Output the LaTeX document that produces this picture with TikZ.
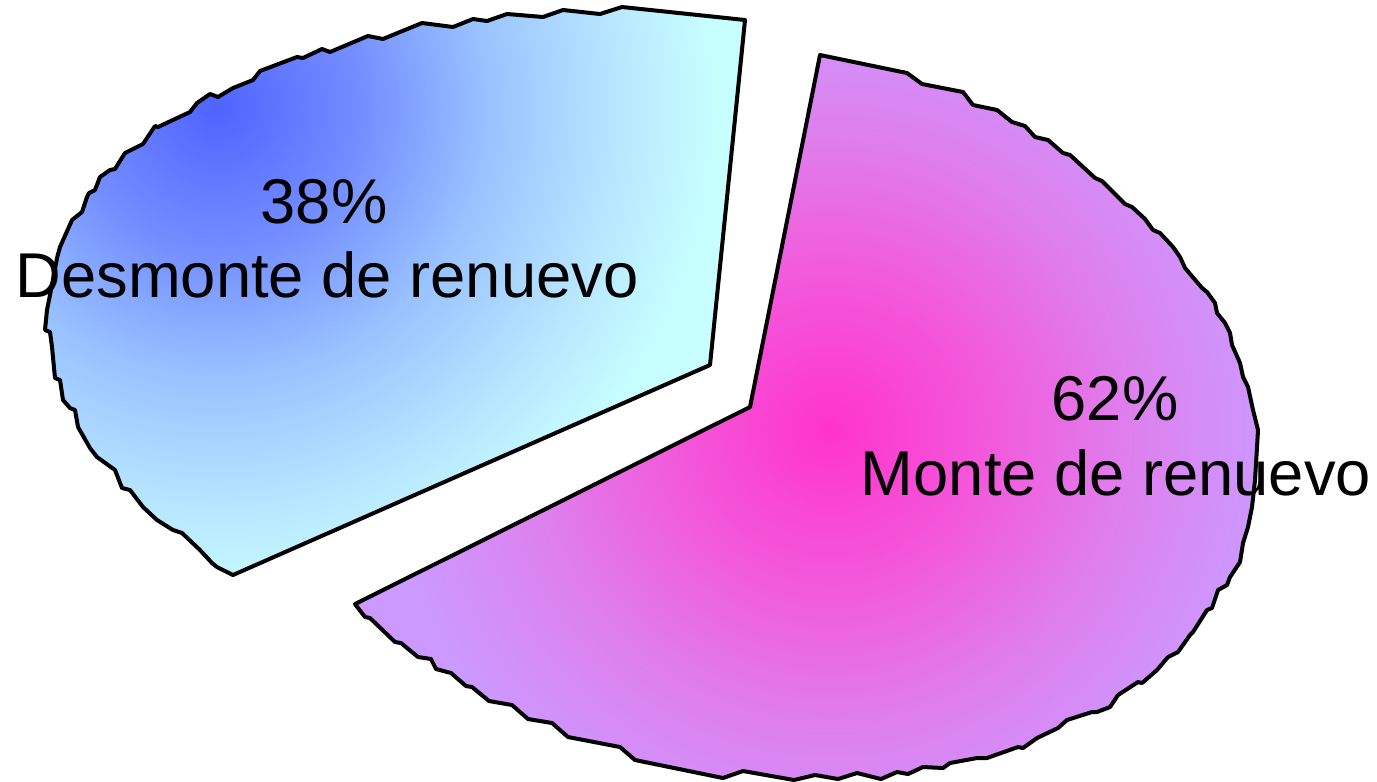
\documentclass[tikz,border=0pt]{standalone}
\usepackage{fontspec}
\setmainfont{Liberation Sans}
\usepackage{tikz}
\definecolor{lavender}{rgb}{0.8,0.6,1}
\definecolor{palecyan}{rgb}{0.78,1,1}
\pgfdeclareradialshading{pinkglow}{\pgfpoint{0bp}{0bp}}{rgb(0bp)=(1,0.2,0.8); rgb(9bp)=(0.95,0.35,0.86); rgb(17bp)=(0.87,0.5,0.93); rgb(25bp)=(0.8,0.6,1); rgb(50bp)=(0.8,0.6,1)}
\pgfdeclareradialshading{blueglow}{\pgfpoint{0bp}{0bp}}{rgb(0bp)=(0.31,0.39,1); rgb(7bp)=(0.45,0.55,1); rgb(13.5bp)=(0.6,0.76,1); rgb(20bp)=(0.72,0.9,1); rgb(25bp)=(0.78,1,1); rgb(50bp)=(0.78,1,1)}
\def\blueslice{(710,365) -- (745,20) -- (622,7) -- (600,14) -- (563,10) -- (543,17) -- (507,14) -- (487,21) -- (473,19) -- (453,27) -- (422,23) -- (400,32) -- (383,39) -- (368,36) -- (330,52) -- (322,49) -- (303,58) -- (297,57) -- (260,71) -- (253,80) -- (233,88) -- (218,97) -- (210,94) -- (197,103) -- (190,112) -- (158,127) -- (155,126) -- (143,144) -- (127,152) -- (125,153) -- (115,169) -- (110,170) -- (100,177) -- (95,190) -- (89,193) -- (87,197) -- (82,212) -- (72,220) -- (68,229) -- (60,247) -- (57,258) -- (52,285) -- (47,310) -- (45,330) -- (50,332) -- (52,347) -- (55,378) -- (60,380) -- (63,400) -- (70,408) -- (75,410) -- (78,427) -- (90,448) -- (97,457) -- (115,470) -- (122,488) -- (130,490) -- (143,507) -- (157,520) -- (173,530) -- (182,533) -- (200,550) -- (212,563) -- (217,567) -- (233,575) -- cycle}
\def\pinkslice{(750,407) -- (820,55) -- (907,73) -- (922,84) -- (963,92) -- (973,105) -- (997,110) -- (1012,122) -- (1025,126) -- (1035,137) -- (1048,140) -- (1063,153) -- (1070,155) -- (1095,178) -- (1102,181) -- (1125,204) -- (1132,207) -- (1145,219) -- (1153,230) -- (1160,233) -- (1173,247) -- (1180,257) -- (1185,268) -- (1202,288) -- (1207,292) -- (1215,303) -- (1217,313) -- (1225,323) -- (1230,333) -- (1232,345) -- (1240,363) -- (1243,377) -- (1248,387) -- (1253,410) -- (1258,430) -- (1257,447) -- (1255,480) -- (1252,507) -- (1248,527) -- (1243,543) -- (1240,562) -- (1230,577) -- (1227,585) -- (1218,590) -- (1212,608) -- (1207,610) -- (1193,632) -- (1190,635) -- (1178,652) -- (1168,657) -- (1157,670) -- (1142,683) -- (1138,682) -- (1118,695) -- (1110,707) -- (1097,712) -- (1092,712) -- (1067,720) -- (1058,728) -- (1037,738) -- (1023,748) -- (1018,747) -- (987,758) -- (977,758) -- (950,763) -- (943,768) -- (923,767) -- (908,774) -- (897,772) -- (881,779) -- (857,773) -- (838,779) -- (815,775) -- (794,780) -- (743,771) -- (723,778) -- (635,760) -- (620,747) -- (568,737) -- (552,723) -- (528,719) -- (512,705) -- (489,701) -- (472,687) -- (466,686) -- (451,673) -- (436,669) -- (431,659) -- (418,657) -- (401,643) -- (395,642) -- (370,618) -- (365,617) -- (355,604) -- cycle}
\tikzset{
  slice/.style={line width=0.4mm, line join=round},
  lbl/.style={font=\fontsize{18}{21}\selectfont, inner sep=0pt, anchor=base}
}

\begin{document}
\begin{tikzpicture}[x=0.01cm, y=-0.01cm]
			%%%%% START %%%%%
			\useasboundingbox (0,0) rectangle (1377,781);
			
			% 38% slice
			\fill[palecyan] \blueslice;
			\begin{scope}
				\clip \blueslice;
				\shade[shading=blueglow] (217,107) circle (500);
			\end{scope}
			\draw[slice] \blueslice;
			
			% 62% slice
			\fill[lavender] \pinkslice;
			\begin{scope}
				\clip \pinkslice;
				\shade[shading=pinkglow] (830,430) circle (440);
			\end{scope}
			\draw[slice] \pinkslice;
			
			\node[lbl] (pct38) at (324,223) {38\%};
			\node[lbl] (name38) at (327,297) {Desmonte de renuevo};
			
			\node[lbl] (pct62) at (1115,420) {62\%};
			\node[lbl] (name62) at (1116,495) {Monte de renuevo};
			%%%%% END %%%%%
		\end{tikzpicture}
\end{document}
